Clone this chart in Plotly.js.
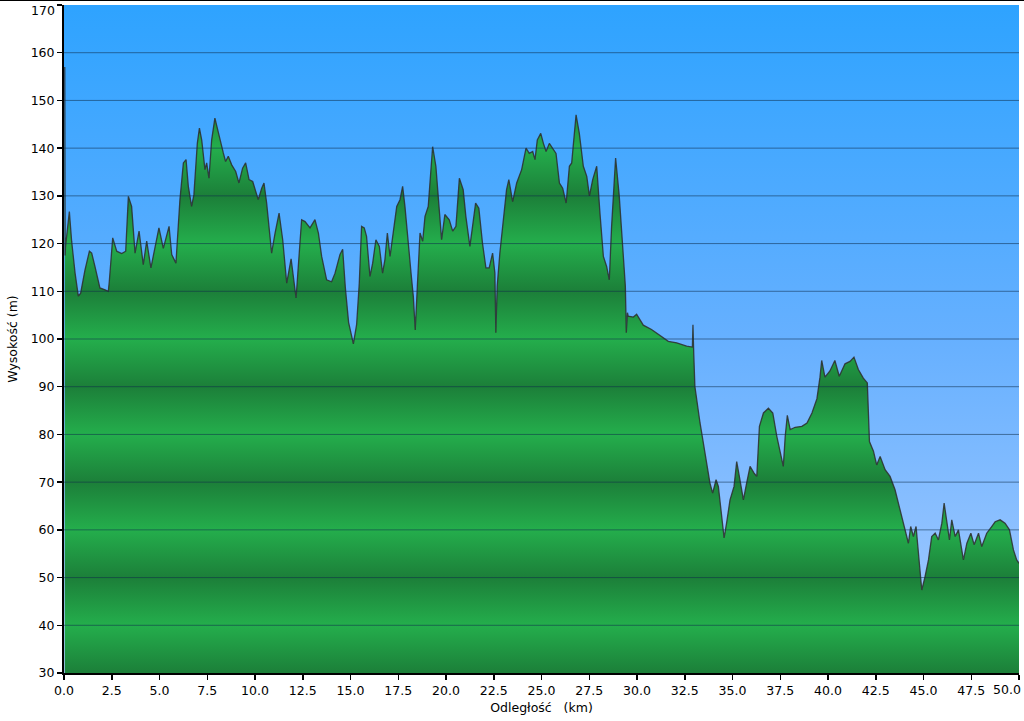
<!DOCTYPE html>
<html>
<head>
<meta charset="utf-8">
<script src="https://cdn.plot.ly/plotly-3.0.1.min.js"></script>
<style>
  html, body { margin: 0; padding: 0; background: #ffffff; }
  #wrap { position: relative; width: 1024px; height: 721px; }
  #chart { width: 1024px; height: 721px; }
  #topline { position: absolute; left: 0; top: 0; width: 1024px; height: 1px; background: #000; }
</style>
</head>
<body>
<div id="wrap">
  <div id="chart"></div>
  <div id="topline"></div>
</div>
<script>
// Distance along route (km)
const distanceKm = [
  0.04, 0.06, 0.08, 0.28, 0.40, 0.58, 0.75, 0.87, 1.1, 1.33, 1.45, 1.62, 1.88, 2.15, 2.32, 2.37,
  2.55, 2.76, 3.02, 3.23, 3.37, 3.54, 3.72, 3.93, 4.15, 4.33, 4.55, 4.97, 5.2, 5.5, 5.64, 5.86,
  6.07, 6.25, 6.39, 6.51, 6.68, 6.8, 6.98, 7.09, 7.21, 7.38, 7.47, 7.59, 7.73, 7.9, 8.08, 8.34,
  8.46, 8.6, 8.78, 8.99, 9.16, 9.35, 9.51, 9.69, 9.88, 10.0, 10.17, 10.35, 10.47, 10.61, 10.87,
  11.05, 11.26, 11.45, 11.66, 11.89, 12.15, 12.44, 12.62, 12.88, 13.14, 13.32, 13.49, 13.75,
  14.01, 14.19, 14.45, 14.59, 14.73, 14.9, 15.15, 15.32, 15.46, 15.58, 15.72, 15.84, 16.02,
  16.16, 16.33, 16.51, 16.68, 16.8, 16.93, 17.07, 17.24, 17.42, 17.59, 17.73, 17.85, 18.03,
  18.17, 18.29, 18.39, 18.5, 18.64, 18.78, 18.9, 19.07, 19.19, 19.3, 19.47, 19.6, 19.77, 19.94,
  20.17, 20.35, 20.52, 20.7, 20.9, 21.04, 21.25, 21.39, 21.55, 21.72, 21.91, 22.09, 22.26,
  22.44, 22.56, 22.61, 22.68, 22.82, 23.0, 23.17, 23.29, 23.49, 23.7, 23.96, 24.19, 24.36,
  24.54, 24.66, 24.78, 24.96, 25.1, 25.24, 25.41, 25.59, 25.76, 25.94, 26.11, 26.29, 26.46,
  26.58, 26.76, 26.81, 26.98, 27.19, 27.37, 27.51, 27.68, 27.89, 28.06, 28.24, 28.41, 28.55,
  28.67, 28.88, 29.07, 29.25, 29.39, 29.44, 29.5, 29.54, 29.81, 29.98, 30.33, 30.76, 31.2,
  31.64, 32.08, 32.6, 32.9, 32.93, 32.97, 33.03, 33.3, 33.56, 33.82, 33.96, 34.14, 34.26,
  34.43, 34.56, 34.69, 34.87, 35.08, 35.22, 35.39, 35.57, 35.74, 35.92, 36.13, 36.27, 36.41,
  36.62, 36.88, 37.11, 37.32, 37.58, 37.66, 37.76, 37.87, 38.02, 38.28, 38.63, 38.9, 39.16,
  39.42, 39.58, 39.67, 39.84, 40.1, 40.36, 40.59, 40.89, 41.15, 41.36, 41.59, 41.85, 42.06,
  42.17, 42.38, 42.55, 42.73, 42.99, 43.25, 43.51, 43.69, 43.86, 44.04, 44.21, 44.33, 44.47,
  44.61, 44.82, 44.91, 45.08, 45.26, 45.43, 45.61, 45.78, 45.96, 46.08, 46.22, 46.36, 46.48,
  46.66, 46.83, 47.01, 47.09, 47.27, 47.48, 47.65, 47.88, 48.05, 48.31, 48.57, 48.75, 49.01,
  49.27, 49.5, 49.71, 49.88, 50.0
];

// Elevation (m)
const elevationM = [
  157, 117.5, 119.4, 126.7, 120.5, 113.8, 109, 109.6, 114.5, 118.4, 118, 115.2, 110.7, 110.3, 110, 112,
  121.2, 118.4, 117.9, 118.4, 129.9, 127.8, 118, 122.6, 115.6, 120.5, 114.9, 123.3, 119, 123.6, 117.7, 115.9,
  129.2, 136.9, 137.6, 132, 127.8, 130.2, 141, 144.2, 141.7, 135.5, 136.9, 133.7, 141.7, 146.3, 143.1, 139,
  137.2, 138.3, 136.5, 135.1, 132.7, 135.8, 136.9, 133.4, 133, 131.3, 129.2, 131.6, 132.7, 128.5, 118,
  122.2, 126.4, 120.8, 111.7, 116.8, 108.6, 125, 124.6, 123.3, 125, 122.2, 117.3, 112.4,
  112, 113.8, 117.7, 118.8, 110.8, 103.5, 99, 103, 111.8, 123.6, 123.3, 121.5, 113.1,
  115.9, 120.8, 119.4, 113.8, 116.6, 122.2, 117.3, 122.2, 127.8, 129.2, 132, 127.8, 120.8,
  113.8, 108.9, 101.9, 111.1, 122.2, 120.5, 125.7, 127.8, 135.5, 140.3, 136.2, 129.2, 120.8, 126.1,
  125, 122.6, 123.6, 133.7, 131.3, 125.7, 119.4, 123.6, 128.5, 127.4, 120.1, 114.9, 114.9,
  118, 113.8, 101.3, 111.1, 118, 125, 131.3, 133.4, 128.8, 132.7, 135.5, 140, 138.9,
  139.3, 137.6, 141.7, 143.1, 141, 139.3, 141, 140, 138.9, 132.7, 131.6, 128.5, 136.2,
  136.9, 145.9, 147, 143.1, 136.2, 134.1, 130, 133.4, 136.2, 126.4, 117.3, 115.2, 112.4,
  123.6, 137.9, 130, 120.1, 111.1, 101.3, 105.5, 104.8, 104.6, 105.2, 102.9, 102, 100.8,
  99.5, 99.2, 98.5, 98.3, 103, 97, 90.1, 82.4, 76.1, 69.8, 67.7, 70.5, 69.1,
  62.1, 58.3, 61.4, 66.3, 69.1, 74.3, 70.5, 66.3, 69.8, 73.3, 71.9, 71.2, 81.7,
  84.5, 85.5, 84.5, 79.6, 74.5, 73.3, 79.6, 84, 81, 81.5, 81.7, 82.4, 84.5,
  87.5, 92, 95.5, 92, 93.3, 95.5, 92.2, 94.8, 95.3, 96.2, 93.6, 91.8, 90.8,
  78.5, 76.5, 73.6, 75.4, 72.6, 71.2, 68.4, 65.6, 62.8, 60, 57.2, 60.7, 58.6,
  60.7, 51.6, 47.4, 50.2, 53.7, 58.6, 59.3, 57.9, 61.4, 65.6, 62.1, 57.9, 62.1,
  58.6, 60, 55.8, 53.7, 57.2, 59.3, 56.9, 59.3, 56.5, 59.3, 60.7, 61.7, 62.1,
  61.4, 60, 55.8, 53.7, 53
];

// Axis ticks
const yTickVals = [30, 40, 50, 60, 70, 80, 90, 100, 110, 120, 130, 140, 150, 160, 170];
const yTickText = ["30","40","50","60","70","80","90","100","110","120","130","140","150","160","170"];
const xTickVals = [0, 2.5, 5, 7.5, 10, 12.5, 15, 17.5, 20, 22.5, 25, 27.5, 30, 32.5, 35, 37.5, 40, 42.5, 45, 47.5, 50];
const xTickText = ["0.0","2.5","5.0","7.5","10.0","12.5","15.0","17.5","20.0","22.5","25.0","27.5","30.0","32.5","35.0","37.5","40.0","42.5","45.0","47.5","50.0"];

const yMin = yTickVals[0], yMax = yTickVals[yTickVals.length - 1];
const xMin = xTickVals[0], xMax = xTickVals[xTickVals.length - 1];
const eps = 1e-4;

// Edge labels (top y, right x) are drawn as annotations so they stay inside the image
const yLabelsAxis = yTickText.map((t, i) => i === yTickText.length - 1 ? '' : t);
const xLabelsAxis = xTickText.map((t, i) => i === xTickText.length - 1 ? '' : t);

// Banded green gradient: dark at odd tens, light at even tens
const darkG = '#1C7F39', lightG = '#24AE4C';
const bandScale = yTickVals.map(v => [(v - yMin) / (yMax - yMin), (Math.round(v / 10) % 2 === 1) ? darkG : lightG]);

const profile = {
  type: 'scatter',
  mode: 'lines',
  x: distanceKm,
  y: elevationM,
  fill: 'tozeroy',
  fillgradient: { type: 'vertical', colorscale: bandScale, start: yMin, stop: yMax },
  line: { color: 'rgba(45,45,45,0.85)', width: 1.3 },
  hoverinfo: 'skip',
  showlegend: false
};

const bgSvg = '<svg xmlns="http://www.w3.org/2000/svg" width="100" height="100" viewBox="0 0 100 100" preserveAspectRatio="none">' +
  '<defs><linearGradient id="g" x1="0" y1="0" x2="0" y2="1">' +
  '<stop offset="0" stop-color="#2EA3FF"/><stop offset="0.5" stop-color="#66B0FF"/><stop offset="1" stop-color="#A9CCFF"/>' +
  '</linearGradient></defs><rect x="0" y="0" width="100" height="100" fill="url(#g)"/></svg>';

const gridShapes = yTickVals.slice(1, -1).map(v => ({
  type: 'line', xref: 'paper', x0: 0, x1: 1, yref: 'y', y0: v, y1: v,
  line: { color: 'rgba(15,45,75,0.55)', width: 1 }, layer: 'above'
}));

const font = { family: 'Verdana, "DejaVu Sans", sans-serif', size: 12.5, color: '#000' };

const edgeAnnotations = [
  {
    text: yTickText[yTickText.length - 1], xref: 'paper', x: 0, yref: 'y', y: yMax,
    xanchor: 'right', yanchor: 'top', xshift: -8, yshift: 3, showarrow: false, font: font, borderpad: 0
  },
  {
    text: xTickText[xTickText.length - 1], xref: 'x', x: xMax, yref: 'paper', y: 0,
    xanchor: 'right', yanchor: 'top', xshift: 3, yshift: -8, showarrow: false, font: font, borderpad: 0
  }
];

const layout = {
  width: 1024, height: 721,
  margin: { l: 64, r: 5, t: 5, b: 48 },
  paper_bgcolor: '#ffffff',
  plot_bgcolor: 'rgba(0,0,0,0)',
  font: font,
  images: [{
    source: 'data:image/svg+xml;utf8,' + encodeURIComponent(bgSvg),
    xref: 'paper', yref: 'paper', x: 0, y: 1, sizex: 1, sizey: 1,
    xanchor: 'left', yanchor: 'top', sizing: 'stretch', layer: 'below'
  }],
  shapes: gridShapes,
  annotations: edgeAnnotations,
  xaxis: {
    range: [xMin - eps, xMax + eps],
    tickmode: 'array', tickvals: xTickVals, ticktext: xLabelsAxis,
    showgrid: false, zeroline: false,
    showline: true, linecolor: '#000', linewidth: 2,
    ticks: 'outside', ticklen: 5, tickwidth: 1.5, tickcolor: '#000',
    tickfont: font,
    title: { text: 'Odległość\u00a0\u00a0 (km)', font: font, standoff: 6 }
  },
  yaxis: {
    range: [yMin - eps, yMax + eps],
    tickmode: 'array', tickvals: yTickVals, ticktext: yLabelsAxis,
    showgrid: false, zeroline: false,
    showline: true, linecolor: '#000', linewidth: 2,
    ticks: 'outside', ticklen: 5, tickwidth: 1.5, tickcolor: '#000',
    tickfont: font,
    title: { text: 'Wysokość (m)', font: font, standoff: 10 }
  }
};

Plotly.newPlot('chart', [profile], layout, { displayModeBar: false, staticPlot: true });
</script>
</body>
</html>
